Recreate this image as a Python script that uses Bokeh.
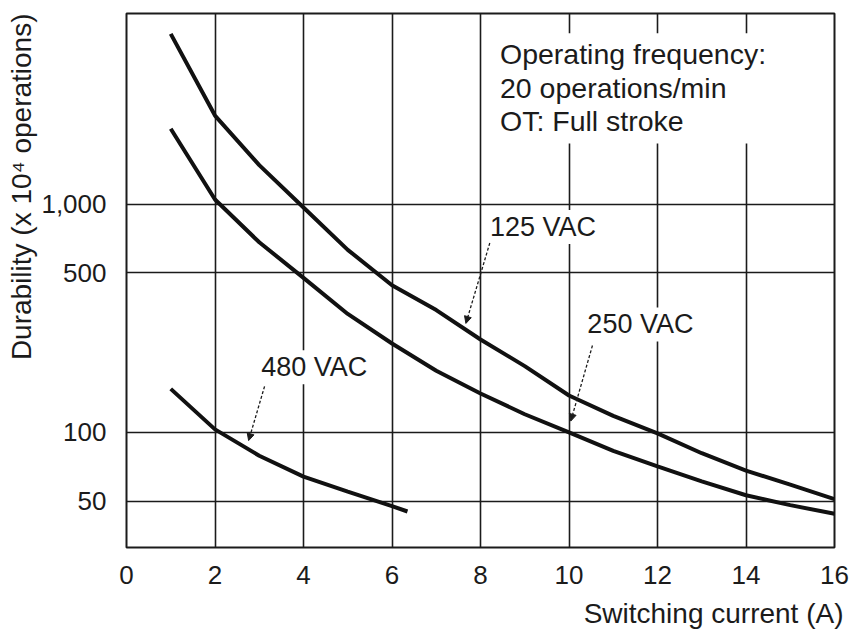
import math
from bokeh.plotting import figure
from bokeh.models import (Range1d, FixedTicker, NumeralTickFormatter, Label, Title,
                          Arrow, NormalHead, BoxAnnotation)
from bokeh.embed import file_html
from bokeh.resources import INLINE

# ---- data ----
current = [1, 2, 3, 4, 5, 6, 7, 8, 9, 10, 11, 12, 13, 14, 15, 16]
dur_125vac = [5560, 2440, 1480, 966, 630, 441, 343, 255, 195, 145, 118, 99, 81, 68, 59, 51]
dur_250vac = [2135, 1046, 680, 475, 330, 245, 186, 148, 120, 100, 83, 71, 61, 53, 48, 44]
current_480 = [1, 2, 3, 4, 5, 6, 6.35]
dur_480vac = [155, 103, 79, 64, 55, 47.5, 45]

x_ticks = [0, 2, 4, 6, 8, 10, 12, 14, 16]
y_ticks = [50, 100, 500, 1000]

note_lines = ["Operating frequency:", "20 operations/min", "OT: Full stroke"]

FONT = "Liberation Sans"
INK = "#1b1b1b"

p = figure(width=850, height=639, x_range=Range1d(0, 16), y_range=Range1d(31.3, 6830),
           y_axis_type="log", output_backend="svg", toolbar_location=None,
           min_border_left=126, min_border_right=16, min_border_top=13, min_border_bottom=92)
p.background_fill_color = "white"
p.border_fill_color = "white"
p.outline_line_color = INK
p.outline_line_width = 2

# axes
for ax in (p.xaxis, p.yaxis):
    ax.axis_line_color = None
    ax.major_tick_line_color = None
    ax.minor_tick_line_color = None
    ax.major_label_text_font = FONT
    ax.major_label_text_color = INK
p.xaxis.ticker = FixedTicker(ticks=x_ticks)
p.xaxis.major_label_text_font_size = "26px"
p.xaxis.major_label_standoff = 12
p.yaxis.ticker = FixedTicker(ticks=y_ticks)
p.yaxis.formatter = NumeralTickFormatter(format="0,0")
p.yaxis.major_label_text_font_size = "26px"
p.yaxis.major_label_standoff = 14

p.xgrid.ticker = FixedTicker(ticks=x_ticks)
p.ygrid.ticker = FixedTicker(ticks=y_ticks)
for g in (p.xgrid, p.ygrid):
    g.grid_line_color = INK
    g.grid_line_width = 1.6
    g.minor_grid_line_color = None

# curves
p.line(current, dur_125vac, line_color="#111111", line_width=4)
p.line(current, dur_250vac, line_color="#111111", line_width=4)
p.line(current_480, dur_480vac, line_color="#111111", line_width=4)

# white box behind the note
p.add_layout(BoxAnnotation(left=8.17, right=15.14, top=5590, bottom=1842,
                           fill_color="white", fill_alpha=1.0, line_color=None))
for txt, yv in zip(note_lines, [4560, 3220, 2300]):
    p.add_layout(Label(x=8.44, y=yv, text=txt, text_font=FONT, text_font_size="28.5px",
                       text_color=INK, text_baseline="middle", text_align="left"))

# curve labels
for txt, xv, yv in [("125 VAC", 8.17, 793), ("250 VAC", 10.37, 297), ("480 VAC", 3.0, 193)]:
    p.add_layout(Label(x=xv, y=yv, text=txt, text_font=FONT, text_font_size="27px",
                       text_color=INK, text_baseline="middle", text_align="left",
                       background_fill_color="white", background_fill_alpha=1.0, padding=2))

# leader arrows
for xs, ys, xe, ye in [(8.21, 675, 7.67, 300), (10.53, 240, 10.04, 112), (3.12, 159, 2.76, 92)]:
    p.add_layout(Arrow(x_start=xs, y_start=ys, x_end=xe, y_end=ye,
                       line_color=INK, line_width=1.3, line_dash="3 2",
                       end=NormalHead(size=7, fill_color=INK, line_color=INK, line_width=1)))

# axis titles
p.add_layout(Title(text="Durability (x 10\u2074 operations)", align="right",
                   text_font=FONT, text_font_size="28px", text_font_style="normal",
                   text_color=INK, standoff=4), "left")
p.add_layout(Title(text="Switching current (A)", align="right", offset=-9,
                   text_font=FONT, text_font_size="28px", text_font_style="normal",
                   text_color=INK, standoff=19), "below")

open("out.html", "w").write(file_html(p, INLINE))
